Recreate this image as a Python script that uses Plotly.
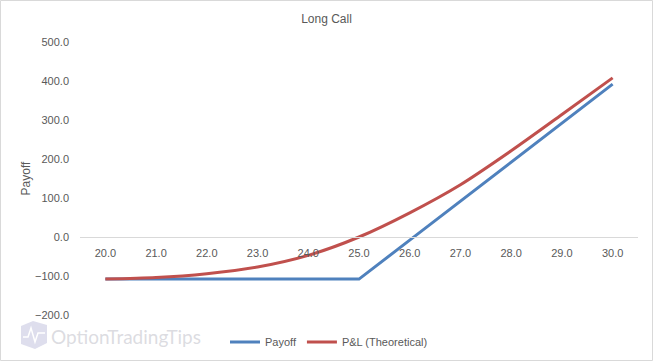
import plotly.graph_objects as go

# ---- data ----
strike_prices = [20.0, 21.0, 22.0, 23.0, 24.0, 25.0, 26.0, 27.0, 28.0, 29.0, 30.0]
payoff = [-108, -108, -108, -108, -108, -108, -8, 92, 192, 292, 392]
pnl_theoretical = [-108, -104, -94, -77, -47, 0, 62, 134, 221, 314, 408]
y_ticks = [-200, -100, 0, 100, 200, 300, 400, 500]

# ---- layout geometry (pixels) ----
W, H = 653, 361
L, R, T, B = 80, 15, 42, 46
PW, PH = W - L - R, H - T - B


def px(xp):
    return (xp - L) / PW


def py(yp):
    return (H - B - yp) / PH


fig = go.Figure()
fig.add_trace(go.Scatter(
    x=strike_prices, y=payoff, name="Payoff", mode="lines",
    line=dict(color="#4F81BD", width=3),
))
fig.add_trace(go.Scatter(
    x=strike_prices, y=pnl_theoretical, name="P&L (Theoretical)", mode="lines",
    line=dict(color="#C0504D", width=3, shape="spline", smoothing=0.8),
))

font_family = "Liberation Sans, Arial, sans-serif"
grey = "#595959"

fig.update_layout(
    width=W, height=H,
    margin=dict(l=L, r=R, t=T, b=B, autoexpand=False),
    paper_bgcolor="white", plot_bgcolor="white",
    font=dict(family=font_family, color=grey, size=11),
    title=dict(text="Long Call", x=0.5, xanchor="center", xref="container",
               y=1 - 19 / H, yref="container",
               yanchor="middle", font=dict(size=12, color=grey)),
    showlegend=True,
    legend=dict(orientation="h", x=px(329), xanchor="center", y=py(342),
                yanchor="middle", font=dict(size=11, color=grey),
                bgcolor="rgba(0,0,0,0)", itemwidth=30),
    xaxis=dict(
        range=[19.5, 30.5], tickvals=strike_prices, tickformat=".1f",
        anchor="free", position=200 / 700, automargin=False,
        showline=True, linecolor="#D9D9D9", linewidth=1,
        showgrid=False, zeroline=False, ticks="", ticklabelstandoff=6,
        tickfont=dict(size=11, color=grey),
    ),
    yaxis=dict(
        range=[-200, 500], tickvals=y_ticks, tickformat=".1f", automargin=False,
        showgrid=False, zeroline=False, showline=False, ticks="",
        ticklabelstandoff=10,
        tickfont=dict(size=11, color=grey),
        title=dict(text="Payoff", standoff=1, font=dict(size=12, color=grey)),
    ),
)

# watermark text
fig.add_annotation(
    text="OptionTradingTips", xref="paper", yref="paper",
    x=px(49), y=py(336), xanchor="left", yanchor="middle", showarrow=False,
    font=dict(family="Lato, Liberation Sans, sans-serif", size=19,
              color="rgba(205,205,212,0.7)"),
)
# watermark icon
fig.add_shape(
    type="path", xref="paper", yref="paper",
    path=(f"M {px(21)} {py(326)} L {px(33)} {py(321)} L {px(47)} {py(325)} "
          f"L {px(47)} {py(343)} L {px(35)} {py(349)} L {px(21)} {py(344)} Z"),
    fillcolor="rgba(200,200,225,0.6)", line=dict(width=0),
)
fig.add_shape(
    type="path", xref="paper", yref="paper",
    path=(f"M {px(23)} {py(337)} L {px(28)} {py(337)} L {px(31)} {py(328)} "
          f"L {px(35)} {py(342)} L {px(38)} {py(333)} L {px(45)} {py(333)}"),
    line=dict(color="white", width=1.5),
)
# outer border
fig.add_shape(
    type="rect", xref="paper", yref="paper",
    x0=px(0.5), x1=px(W - 0.5), y0=py(H - 0.5), y1=py(0.5),
    line=dict(color="#D9D9D9", width=1), fillcolor="rgba(0,0,0,0)",
)

fig.write_html(
    "out.html",
    config={"displayModeBar": False},
    post_script="document.body.style.margin='0';document.body.style.overflow='hidden';",
)
